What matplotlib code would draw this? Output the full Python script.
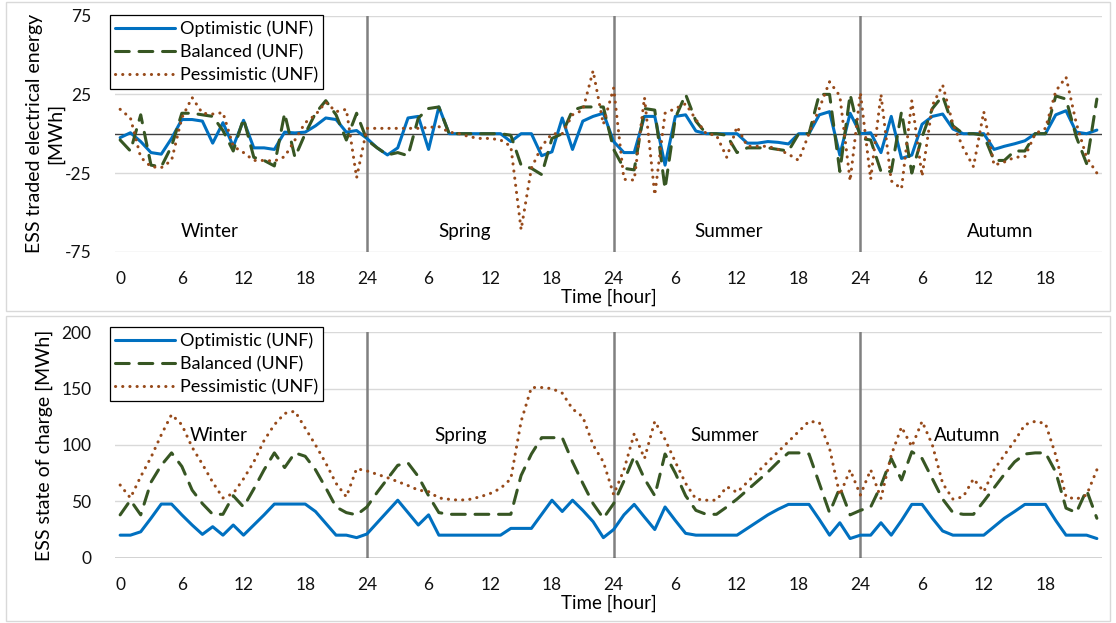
#!/usr/bin/env python3
"""
ESS traded energy and state of charge over four representative days
(Winter, Spring, Summer, Autumn), three UNF scenarios.

Two stacked panels:
  1. Traded electrical energy per hour.
  2. State of charge per hour.
"""

import matplotlib
matplotlib.use("Agg")
import matplotlib.pyplot as plt
from matplotlib.patches import Rectangle

# --- data -------------------------------------------------------------------

HOURS = list(range(96))
TICK_POS = list(range(0, 96, 6))
TICK_LABELS = ["0", "6", "12", "18", "24", "6", "12", "18",
               "24", "6", "12", "18", "24", "6", "12", "18"]
SEASONS = ["Winter", "Spring", "Summer", "Autumn"]
DAY_BOUNDS = [24, 48, 72]

# traded electrical energy [MWh]
opt_trade = [
    -2.5, 0.6, -5, -12, -13, -3, 9, 9, 8, -6, 7, -8,
    8.5, -9, -9, -10, 1, 0.5, 1, 5, 10, 9, 1, 2,
    -3, -9, -13.5, -9, 10, 11, -10, 17, 0, 0, 0, 0,
    0, 0, -5, 0, 0, -14, -11.5, 10, -10, 8, 11, 13,
    -5, -12, -12, 11, 11, -20, 11, 12, 1.7, 0, 0, 0,
    0, -6, -6, -5, -5.5, -6.5, 0, 0, 12, 14, -13.6, 13,
    0, 0.6, -12, 11, -15.7, -13.6, 6, 11, 12.5, 3, 0, 0,
    0, -10, -8, -6.4, -4.5, 0, 0, 12, 14.6, 1, 0, 2.3,
]
bal_trade = [
    -4, -11, 12, -20, -21, -8, 13, 13, 12, 11, 2, -11,
    9.7, -15, -17, -20.5, 13, -15, 0, 13, 21, 12, -4, 13,
    -4, -9, -13.5, -12, -14, 10, 16, 17, 0, 0, 0, 0,
    0, 0, -1, -20, -22, -26, -3, 0, 15, 17, 17, 17,
    -10, -22, -23, 16, 15, -35, 10, 25, 8, 0, 0, -1,
    -12, -9, -9, -9, -10, -11, 0, 0, 25, 25, -24, 25,
    -3, -4, -24, -24, 14, -25, -2, 16, 24, 5, 0, 0,
    -1, -17, -17, -11, -11, 0, 0, 24, 22, -2, -19, 22,
]
pes_trade = [
    15.5, 10, -15, -21, -21.6, -17, 10, 23, 13, 12.5, 13.4, -8,
    -12, -17, -17, -17.4, -14.6, -4, 7, 12, 20, 14, 15.5, -28,
    3.4, 3.4, 3.4, 3.4, 3.4, 3.4, 4, 4.5, 1, 0, -2, -3,
    -3, -4, -8, -61, -22, -8, 0, 0, 12, 15, 40, 6,
    29, -29, -29.5, 23, -39, 13, 16, 19, 9, 0, -1, -15,
    4.5, -8, -8, -8, -10, -13, -17, 0, 16, 33, 24, -30,
    26, -29, 25, -30, -35, 21, -27, 18, 31, 6, -9, -21,
    14, -20, -18, -15, -14.6, 0, 3.4, 27, 36, 6.6, -15, -25,
]

# state of charge [MWh]
opt_soc = [
    20, 20, 23, 35, 47.6, 47.6, 38, 29, 20.7, 27.5, 20, 29,
    20, 29, 38, 47.6, 47.6, 47.6, 47.6, 41, 30.5, 20, 20, 17.8,
    21, 31, 41, 51, 40, 29, 38, 20, 20, 20, 20, 20,
    20, 20, 26, 26, 26, 38.5, 51, 41, 51, 42, 32, 17.8,
    25, 38, 47.3, 36, 25, 45, 33, 21.6, 20, 20, 20, 20,
    20, 26, 32, 38, 43, 47.3, 47.3, 47.3, 34, 20, 31, 17,
    20, 20, 31, 20, 33, 47.3, 47.3, 35, 23.7, 20, 20, 20,
    20, 27.5, 35, 41, 47.3, 47.3, 47.3, 33, 20, 20, 20, 17,
]
bal_soc = [
    38, 51, 38, 67, 82, 93, 81, 60, 48, 38.5, 38.5, 55,
    45, 61, 78, 93, 80, 93, 90, 78, 62, 45, 40, 38,
    45, 58, 70, 82, 84, 72, 55, 40, 38.5, 38.5, 38.5, 38.5,
    38.5, 38.5, 38.5, 73, 92, 106.5, 106.5, 106.5, 85, 66, 48, 35,
    48, 68, 90, 70, 55, 92, 75, 55, 42, 38.5, 38.5, 45,
    52, 60, 68, 76, 85, 93, 93, 92, 66, 40, 62, 38,
    42, 45, 64, 88, 69, 94, 88, 70, 52, 40, 38.5, 38.5,
    50, 62, 74, 85, 92, 93, 93, 76, 44, 40, 60, 35,
]
pes_soc = [
    64.5, 53, 72, 89, 109, 127, 118, 98, 83, 67, 53, 57,
    70, 85, 104, 118, 128, 130, 115, 100, 84, 66, 54, 79,
    77, 74, 71, 67.5, 64, 60, 58.6, 53, 51.8, 51, 51.8, 54,
    57, 61.5, 70, 121, 151, 151, 150, 146, 132, 125, 100, 85,
    56, 78, 110, 88, 121, 105, 85, 66, 52, 51, 51, 63,
    58, 67, 76, 85, 94, 103, 112, 121, 120, 97, 55.6, 78,
    55.6, 78, 52.7, 91, 116, 98.5, 121, 100, 66, 52, 54, 70,
    58.6, 78, 91, 103.6, 118, 121, 119, 91, 54, 52, 55.6, 78,
]

# --- styling ----------------------------------------------------------------

SERIES = [
    ("Optimistic (UNF)", "#0070C0", "-"),
    ("Balanced (UNF)", "#375623", (0, (4.5, 3.2))),
    ("Pessimistic (UNF)", "#974A1A", (0, (0.05, 2.3))),
]

plt.rcParams["font.family"] = ["Lato", "DejaVu Sans"]
plt.rcParams["font.size"] = 12
plt.rcParams["axes.unicode_minus"] = False


def draw_panel(ax, values, ylim, yticks, season_y, season_x, ylabel, ylab_x):
    for (label, color, ls), ys in zip(SERIES, values):
        ax.plot(HOURS, ys, color=color, linestyle=ls, linewidth=2.2,
                label=label, dash_capstyle="round", solid_capstyle="round",
                zorder=4)

    for b in DAY_BOUNDS:
        ax.plot([b, b], ylim, color="#808080", linewidth=1.8, zorder=3)

    ax.set_xlim(-0.5, 95.5)
    ax.set_ylim(*ylim)
    ax.set_yticks(yticks)
    ax.set_xticks(TICK_POS)
    ax.set_xticklabels(TICK_LABELS)
    ax.tick_params(axis="both", length=0, labelsize=12.5, labelcolor="#111111")
    ax.tick_params(axis="x", pad=14)
    ax.tick_params(axis="y", pad=17)
    ax.grid(axis="y", color="#d9d9d9", linewidth=1.0, zorder=0)
    ax.axhline(0, color="#404040", linewidth=1.0, zorder=3)
    for side in ax.spines:
        ax.spines[side].set_visible(False)

    for name, x in zip(SEASONS, season_x):
        ax.text(x, season_y, name, ha="center", va="center", fontsize=13.5,
                zorder=5)

    ax.set_ylabel(ylabel, fontsize=14, linespacing=1.3)
    ax.yaxis.set_label_coords(ylab_x, 0.5)
    ax.set_xlabel("Time [hour]", fontsize=13.5, labelpad=1)


def main():
    fig = plt.figure(figsize=(11.16, 6.23), dpi=100)

    # chart-area borders, as in the spreadsheet export
    fig.patches.append(Rectangle((6 / 1116, 1 - 311 / 623), 1104 / 1116,
                                 309 / 623, transform=fig.transFigure,
                                 fill=False, edgecolor="#d9d9d9", lw=1))
    fig.patches.append(Rectangle((6 / 1116, 1 - 621 / 623), 1104 / 1116,
                                 305 / 623, transform=fig.transFigure,
                                 fill=False, edgecolor="#d9d9d9", lw=1))

    ax_t = fig.add_axes([0.10305, 0.59599, 0.88441, 0.37881])
    ax_b = fig.add_axes([0.10305, 0.10482, 0.88441, 0.36180])

    draw_panel(ax_t, [opt_trade, bal_trade, pes_trade], (-75, 75),
               [-75, -25, 25, 75], -62, [8.75, 33.5, 59.2, 85.6],
               "ESS traded electrical energy\n[MWh]", -0.051)
    draw_panel(ax_b, [opt_soc, bal_soc, pes_soc], (0, 200),
               [0, 50, 100, 150, 200], 108.5, [9.6, 33.1, 58.8, 82.4],
               "ESS state of charge [MWh]", -0.063)

    for ax, top in ((ax_t, 15), (ax_b, 327)):
        leg = ax.legend(loc="upper left",
                        bbox_to_anchor=(110 / 1116, 1 - top / 623),
                        bbox_transform=fig.transFigure, fontsize=13,
                        frameon=True, fancybox=False, framealpha=1,
                        edgecolor="black", borderpad=0.3, labelspacing=0.4,
                        handlelength=3.3, handletextpad=0.25,
                        borderaxespad=0)
        leg.get_frame().set_linewidth(0.9)
        leg.set_zorder(10)

    fig.savefig("out.png", dpi=100)


if __name__ == "__main__":
    main()
